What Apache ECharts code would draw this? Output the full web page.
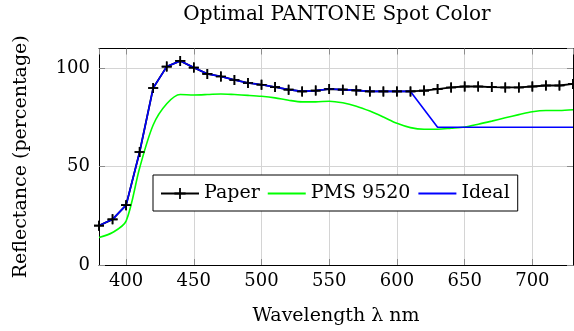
<!DOCTYPE html>
<html>
<head>
<meta charset="utf-8">
<script src="https://cdn.jsdelivr.net/npm/echarts@6/dist/echarts.min.js"></script>
<style>html,body{margin:0;padding:0;background:#fff}#c{width:574px;height:331px}</style>
</head>
<body>
<div id="c"></div>
<script>
var wavelengths = [380,390,400,410,420,430,440,450,460,470,480,490,500,510,520,530,540,550,560,570,580,590,600,610,620,630,640,650,660,670,680,690,700,710,720,730];
var paper = [20.0,23.2,30.4,57.4,89.9,100.8,103.7,100.3,97.1,95.8,94.0,92.5,91.6,90.4,89.1,88.2,88.6,89.4,89.1,88.7,88.2,88.2,88.2,88.2,88.6,89.4,90.2,90.7,90.7,90.4,90.2,90.2,90.7,91.2,91.2,92.0];
var pms9520 = [14.0,16.5,22.3,49.3,71.1,81.9,86.6,86.4,86.6,86.9,86.6,86.2,85.7,84.9,83.7,82.9,82.9,83.2,82.4,80.7,78.2,75.2,72.0,69.8,69.0,69.0,69.5,70.1,71.5,73.1,74.8,76.4,77.9,78.5,78.5,78.9];
var idealX = [380,390,400,410,420,430,440,450,460,470,480,490,500,510,520,530,540,550,560,570,580,590,600,610,630,640,650,660,670,680,690,700,710,720,730];
var idealY = [20.0,23.2,30.4,57.4,89.9,100.8,103.7,100.3,97.1,95.8,94.0,92.5,91.6,90.4,89.1,88.2,88.6,89.4,89.1,88.7,88.2,88.2,88.2,88.2,70,70,70,70,70,70,70,70,70,70,70];
var xTicks = [400,450,500,550,600,650,700];
var yTicks = [0,50,100];
var seriesNames = ['Paper','PMS 9520','Ideal'];
var titleText = 'Optimal PANTONE Spot Color';
var xName = 'Wavelength λ nm';
var yName = 'Reflectance (percentage)';

function pairs(xs, ys){ return xs.map(function(x,i){ return [x, ys[i]]; }); }

var FONT = 'DejaVu Serif';
var plus = 'path://M4.2,0H5.8V10H4.2Z M0,4.2H10V5.8H0Z';
var gridLine = {show:true, lineStyle:{color:'#d4d4d4', width:1}};
var tick = {show:true, inside:true, length:6, lineStyle:{color:'#8c8c8c', width:1}};

var chart = echarts.init(document.getElementById('c'), null, {renderer:'canvas'});
chart.setOption({
  animation:false,
  backgroundColor:'#fff',
  title:{text:titleText, left:337, top:5, textAlign:'center', padding:0,
    textStyle:{fontFamily:FONT, fontSize:20, fontWeight:'normal', color:'#000'}},
  legend:{
    data:[
      {name:seriesNames[0]},
      {name:seriesNames[1], itemStyle:{opacity:0}},
      {name:seriesNames[2], itemStyle:{opacity:0}}
    ],
    left:153, top:175, orient:'horizontal',
    padding:[9,8,8,7], itemGap:7, itemWidth:38, itemHeight:14,
    backgroundColor:'#fff', borderColor:'#000', borderWidth:1,
    textStyle:{fontFamily:FONT, fontSize:19, color:'#000'}
  },
  grid:{left:99, right:1, top:48.5, bottom:64, containLabel:false},
  xAxis:[{
    type:'value', min:380, max:730, splitNumber:7, minInterval:50, maxInterval:50,
    axisLine:{show:true, onZero:false, lineStyle:{color:'#000', width:1}},
    axisTick:tick, splitLine:gridLine,
    axisLabel:{fontFamily:FONT, fontSize:18, color:'#000', margin:7, showMinLabel:false, showMaxLabel:false,
      formatter:function(v){ return xTicks.indexOf(v) >= 0 ? String(v) : ''; }},
    name:xName, nameLocation:'middle', nameGap:42,
    nameTextStyle:{fontFamily:FONT, fontSize:19, color:'#000'}
  },{
    type:'value', position:'top', min:380, max:730, splitNumber:7, minInterval:50, maxInterval:50,
    axisLine:{show:true, onZero:false, lineStyle:{color:'#000', width:1}},
    axisTick:tick, splitLine:{show:false}, axisLabel:{show:false}
  }],
  yAxis:[{
    type:'value', min:0, max:110, interval:50,
    axisLine:{show:true, onZero:false, lineStyle:{color:'#000', width:1}},
    axisTick:tick, splitLine:gridLine,
    axisLabel:{fontFamily:FONT, fontSize:18, color:'#000', margin:9, showMaxLabel:false,
      formatter:function(v){ return yTicks.indexOf(v) >= 0 ? String(v) : ''; }},
    name:yName, nameLocation:'middle', nameGap:68,
    nameTextStyle:{fontFamily:FONT, fontSize:19, color:'#000'}
  },{
    type:'value', position:'right', min:0, max:110, interval:50,
    axisLine:{show:true, onZero:false, lineStyle:{color:'#000', width:1}},
    axisTick:tick, splitLine:{show:false}, axisLabel:{show:false}
  }],
  series:[
    {name:'Paper', type:'line', z:2, data:pairs(wavelengths, paper),
     symbol:plus, symbolSize:10, showAllSymbol:true,
     itemStyle:{color:'#000'}, lineStyle:{color:'#000', width:1.8}},
    {name:'PMS 9520', type:'line', z:3, data:pairs(wavelengths, pms9520), smooth:0.3,
     showSymbol:false, itemStyle:{color:'#00ff00'}, lineStyle:{color:'#00ff00', width:1.6}},
    {name:'Ideal', type:'line', z:4, data:pairs(idealX, idealY),
     showSymbol:false, itemStyle:{color:'#0000ff'}, lineStyle:{color:'#0000ff', width:1.6}},
    {name:'PaperMarks', type:'line', z:5, data:pairs(wavelengths, paper),
     symbol:plus, symbolSize:10, showAllSymbol:true,
     itemStyle:{color:'#000'}, lineStyle:{width:0, opacity:0}}
  ]
});
</script>
</body>
</html>
